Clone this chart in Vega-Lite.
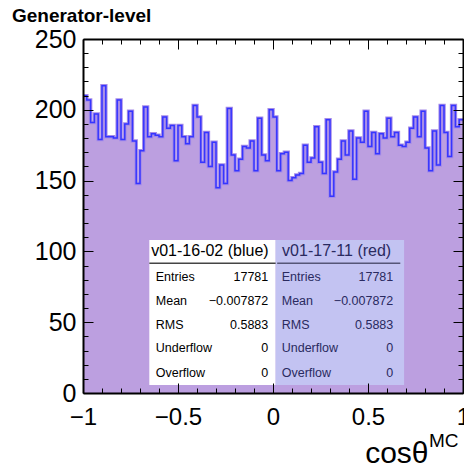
{
  "$schema": "https://vega.github.io/schema/vega-lite/v6.json",
  "width": 380,
  "height": 354,
  "autosize": "none",
  "padding": {"left": 83, "top": 39, "right": 1, "bottom": 72},
  "config": {
    "view": {"stroke": null},
    "font": "Liberation Sans",
    "axis": {"grid": false, "domain": false, "tickColor": "black", "tickWidth": 1, "labelFont": "Liberation Sans", "labelFontSize": 24, "labelColor": "black", "titleFont": "Liberation Sans", "titleColor": "black"}
  },
  "datasets": {
    "hist": [
      {"x": -1, "n": 210}, {"x": -0.98, "n": 207}, {"x": -0.96, "n": 191}, {"x": -0.94, "n": 197}, {"x": -0.92, "n": 179},
      {"x": -0.9, "n": 217}, {"x": -0.88, "n": 181}, {"x": -0.86, "n": 181}, {"x": -0.84, "n": 180}, {"x": -0.82, "n": 207},
      {"x": -0.8, "n": 179}, {"x": -0.78, "n": 190}, {"x": -0.76, "n": 199}, {"x": -0.74, "n": 178}, {"x": -0.72, "n": 148},
      {"x": -0.7, "n": 171}, {"x": -0.68, "n": 202}, {"x": -0.66, "n": 181}, {"x": -0.64, "n": 183}, {"x": -0.62, "n": 182},
      {"x": -0.6, "n": 181}, {"x": -0.58, "n": 195}, {"x": -0.56, "n": 187}, {"x": -0.54, "n": 189}, {"x": -0.52, "n": 164},
      {"x": -0.5, "n": 189}, {"x": -0.48, "n": 181}, {"x": -0.46, "n": 176}, {"x": -0.44, "n": 181}, {"x": -0.42, "n": 203},
      {"x": -0.4, "n": 195}, {"x": -0.38, "n": 163}, {"x": -0.36, "n": 184}, {"x": -0.34, "n": 160}, {"x": -0.32, "n": 177},
      {"x": -0.3, "n": 145}, {"x": -0.28, "n": 161}, {"x": -0.26, "n": 148}, {"x": -0.24, "n": 201}, {"x": -0.22, "n": 168},
      {"x": -0.2, "n": 157}, {"x": -0.18, "n": 165}, {"x": -0.16, "n": 174}, {"x": -0.14, "n": 173}, {"x": -0.12, "n": 178},
      {"x": -0.1, "n": 157}, {"x": -0.08, "n": 194}, {"x": -0.06, "n": 168}, {"x": -0.04, "n": 164}, {"x": -0.02, "n": 200},
      {"x": 0, "n": 195}, {"x": 0.02, "n": 157}, {"x": 0.04, "n": 169}, {"x": 0.06, "n": 170}, {"x": 0.08, "n": 150},
      {"x": 0.1, "n": 152}, {"x": 0.12, "n": 154}, {"x": 0.14, "n": 155}, {"x": 0.16, "n": 175}, {"x": 0.18, "n": 163},
      {"x": 0.2, "n": 166}, {"x": 0.22, "n": 188}, {"x": 0.24, "n": 163}, {"x": 0.26, "n": 155}, {"x": 0.28, "n": 193},
      {"x": 0.3, "n": 139}, {"x": 0.32, "n": 156}, {"x": 0.34, "n": 165}, {"x": 0.36, "n": 178}, {"x": 0.38, "n": 168},
      {"x": 0.4, "n": 185}, {"x": 0.42, "n": 151}, {"x": 0.44, "n": 180}, {"x": 0.46, "n": 177}, {"x": 0.48, "n": 199},
      {"x": 0.5, "n": 174}, {"x": 0.52, "n": 184}, {"x": 0.54, "n": 169}, {"x": 0.56, "n": 183}, {"x": 0.58, "n": 180},
      {"x": 0.6, "n": 194}, {"x": 0.62, "n": 181}, {"x": 0.64, "n": 184}, {"x": 0.66, "n": 175}, {"x": 0.68, "n": 174},
      {"x": 0.7, "n": 177}, {"x": 0.72, "n": 187}, {"x": 0.74, "n": 195}, {"x": 0.76, "n": 181}, {"x": 0.78, "n": 199},
      {"x": 0.8, "n": 173}, {"x": 0.82, "n": 157}, {"x": 0.84, "n": 185}, {"x": 0.86, "n": 161}, {"x": 0.88, "n": 203},
      {"x": 0.9, "n": 184}, {"x": 0.92, "n": 167}, {"x": 0.94, "n": 203}, {"x": 0.96, "n": 188}, {"x": 0.98, "n": 193},
      {"x": 1, "n": 193}
    ],
    "stats": [
      {"label": "Entries", "blue": "17781", "red": "17781", "y": 82.1},
      {"label": "Mean", "blue": "−0.007872", "red": "−0.007872", "y": 65.2},
      {"label": "RMS", "blue": "0.5883", "red": "0.5883", "y": 48.0},
      {"label": "Underflow", "blue": "0", "red": "0", "y": 31.6},
      {"label": "Overflow", "blue": "0", "red": "0", "y": 14.3}
    ],
    "one": [{}]
  },
  "layer": [
    {
      "data": {"name": "hist"},
      "mark": {"type": "area", "interpolate": "step-after", "color": "#bc9fe0"},
      "encoding": {
        "x": {"field": "x", "type": "quantitative", "scale": {"domain": [-1, 1], "nice": false, "zero": false},
          "axis": {"orient": "bottom", "zindex": 1, "values": [-1, -0.5, 0, 0.5, 1], "format": "~g", "tickSize": -10, "labelPadding": 22, "labelFlush": false, "labelOverlap": false, "labelBound": false, "domain": true, "domainColor": "black", "domainWidth": 2,
            "title": "cosθ", "titleFontSize": 30, "titleFontWeight": "normal", "titleX": 345, "titleY": 69, "titleAlign": "right", "titleBaseline": "alphabetic", "titleAnchor": "end"}},
        "y": {"field": "n", "type": "quantitative", "scale": {"domain": [0, 250], "nice": false, "zero": false},
          "axis": {"orient": "left", "zindex": 1, "values": [0, 50, 100, 150, 200, 250], "tickSize": -10, "labelPadding": 17, "labelFontSize": 25, "labelOverlap": false, "labelFlush": false, "domain": true, "domainColor": "black", "domainWidth": 2, "title": null}}
      }
    },
    {
      "data": {"name": "hist"},
      "mark": {"type": "line", "interpolate": "step-after", "stroke": "#a58be8", "strokeWidth": 3.5},
      "encoding": {
        "x": {"field": "x", "type": "quantitative", "scale": {"domain": [-1, 1], "nice": false, "zero": false},
          "axis": {"orient": "bottom", "zindex": 1, "values": [-0.9, -0.8, -0.7, -0.6, -0.4, -0.3, -0.2, -0.1, 0.1, 0.2, 0.3, 0.4, 0.6, 0.7, 0.8, 0.9], "tickSize": -5, "labels": false, "title": null}},
        "y": {"field": "n", "type": "quantitative", "scale": {"domain": [0, 250], "nice": false, "zero": false},
          "axis": {"orient": "left", "zindex": 1, "values": [10, 20, 30, 40, 60, 70, 80, 90, 110, 120, 130, 140, 160, 170, 180, 190, 210, 220, 230, 240], "tickSize": -5, "labels": false, "title": null}}
      }
    },
    {
      "data": {"name": "hist"},
      "mark": {"type": "line", "interpolate": "step-after", "stroke": "#3535ff", "strokeWidth": 1.5},
      "encoding": {
        "x": {"field": "x", "type": "quantitative", "scale": {"domain": [-1, 1], "nice": false, "zero": false},
          "axis": {"orient": "top", "zindex": 1, "values": [-1, -0.5, 0, 0.5, 1], "tickSize": -10, "labels": false, "title": null, "domain": true, "domainColor": "black", "domainWidth": 2}},
        "y": {"field": "n", "type": "quantitative", "scale": {"domain": [0, 250], "nice": false, "zero": false},
          "axis": {"orient": "right", "zindex": 1, "values": [0, 50, 100, 150, 200, 250], "tickSize": -10, "labels": false, "title": null, "domain": true, "domainColor": "black", "domainWidth": 2}}
      }
    },
    {
      "data": {"name": "one"},
      "mark": {"type": "rect", "fill": "white"},
      "encoding": {
        "x": {"datum": -0.651, "scale": {"domain": [-1, 1], "nice": false, "zero": false},
          "axis": {"orient": "top", "zindex": 1, "values": [-0.9, -0.8, -0.7, -0.6, -0.4, -0.3, -0.2, -0.1, 0.1, 0.2, 0.3, 0.4, 0.6, 0.7, 0.8, 0.9], "tickSize": -5, "labels": false, "title": null}},
        "x2": {"datum": 0.014},
        "y": {"datum": 108, "scale": {"domain": [0, 250], "nice": false, "zero": false},
          "axis": {"orient": "right", "zindex": 1, "values": [10, 20, 30, 40, 60, 70, 80, 90, 110, 120, 130, 140, 160, 170, 180, 190, 210, 220, 230, 240], "tickSize": -5, "labels": false, "title": null}},
        "y2": {"datum": 5.6}
      }
    },
    {
      "data": {"name": "one"},
      "mark": {"type": "rect", "fill": "#c3c3f2"},
      "encoding": {
        "x": {"datum": 0.014, "scale": {"domain": [-1, 1], "nice": false, "zero": false}, "axis": null},
        "x2": {"datum": 0.69},
        "y": {"datum": 108, "scale": {"domain": [0, 250], "nice": false, "zero": false}, "axis": null},
        "y2": {"datum": 5.6}
      }
    },
    {
      "data": {"name": "one"},
      "mark": {"type": "rule", "color": "#444444", "strokeWidth": 1.5},
      "encoding": {
        "x": {"datum": -0.651, "scale": {"domain": [-1, 1], "nice": false, "zero": false}, "axis": null},
        "x2": {"datum": 0.014},
        "y": {"datum": 91.6, "scale": {"domain": [0, 250], "nice": false, "zero": false}, "axis": null}
      }
    },
    {
      "data": {"name": "one"},
      "mark": {"type": "rule", "color": "#555577", "strokeWidth": 1.5},
      "encoding": {
        "x": {"datum": 0.022, "scale": {"domain": [-1, 1], "nice": false, "zero": false}, "axis": null},
        "x2": {"datum": 0.67},
        "y": {"datum": 91.6, "scale": {"domain": [0, 250], "nice": false, "zero": false}, "axis": null}
      }
    },
    {
      "data": {"name": "one"},
      "mark": {"type": "text", "text": "v01-16-02 (blue)", "align": "center", "baseline": "middle", "font": "Liberation Sans", "fontSize": 16, "color": "black"},
      "encoding": {
        "x": {"datum": -0.332, "scale": {"domain": [-1, 1], "nice": false, "zero": false}, "axis": null},
        "y": {"datum": 100.3, "scale": {"domain": [0, 250], "nice": false, "zero": false}, "axis": null}
      }
    },
    {
      "data": {"name": "one"},
      "mark": {"type": "text", "text": "v01-17-11 (red)", "align": "center", "baseline": "middle", "font": "Liberation Sans", "fontSize": 16, "color": "#2a2a60"},
      "encoding": {
        "x": {"datum": 0.335, "scale": {"domain": [-1, 1], "nice": false, "zero": false}, "axis": null},
        "y": {"datum": 100.3, "scale": {"domain": [0, 250], "nice": false, "zero": false}, "axis": null}
      }
    },
    {
      "data": {"name": "stats"},
      "mark": {"type": "text", "align": "left", "baseline": "middle", "font": "Liberation Sans", "fontSize": 12.5, "color": "black"},
      "encoding": {
        "x": {"datum": -0.617, "scale": {"domain": [-1, 1], "nice": false, "zero": false}, "axis": null},
        "y": {"field": "y", "type": "quantitative", "scale": {"domain": [0, 250], "nice": false, "zero": false}, "axis": null},
        "text": {"field": "label"}
      }
    },
    {
      "data": {"name": "stats"},
      "mark": {"type": "text", "align": "right", "baseline": "middle", "font": "Liberation Sans", "fontSize": 12.5, "color": "black"},
      "encoding": {
        "x": {"datum": -0.025, "scale": {"domain": [-1, 1], "nice": false, "zero": false}, "axis": null},
        "y": {"field": "y", "type": "quantitative", "scale": {"domain": [0, 250], "nice": false, "zero": false}, "axis": null},
        "text": {"field": "blue"}
      }
    },
    {
      "data": {"name": "stats"},
      "mark": {"type": "text", "align": "left", "baseline": "middle", "font": "Liberation Sans", "fontSize": 12.5, "color": "#2a2a60"},
      "encoding": {
        "x": {"datum": 0.046, "scale": {"domain": [-1, 1], "nice": false, "zero": false}, "axis": null},
        "y": {"field": "y", "type": "quantitative", "scale": {"domain": [0, 250], "nice": false, "zero": false}, "axis": null},
        "text": {"field": "label"}
      }
    },
    {
      "data": {"name": "stats"},
      "mark": {"type": "text", "align": "right", "baseline": "middle", "font": "Liberation Sans", "fontSize": 12.5, "color": "#2a2a60"},
      "encoding": {
        "x": {"datum": 0.633, "scale": {"domain": [-1, 1], "nice": false, "zero": false}, "axis": null},
        "y": {"field": "y", "type": "quantitative", "scale": {"domain": [0, 250], "nice": false, "zero": false}, "axis": null},
        "text": {"field": "red"}
      }
    },
    {
      "data": {"name": "one"},
      "mark": {"type": "text", "text": "MC", "align": "left", "baseline": "alphabetic", "font": "Liberation Sans", "fontSize": 19, "color": "black"},
      "encoding": {
        "x": {"datum": 0.821, "scale": {"domain": [-1, 1], "nice": false, "zero": false}, "axis": null},
        "y": {"datum": -37.9, "scale": {"domain": [0, 250], "nice": false, "zero": false}, "axis": null}
      }
    },
    {
      "data": {"name": "one"},
      "mark": {"type": "text", "text": "Generator-level", "align": "left", "baseline": "alphabetic", "font": "Liberation Sans", "fontSize": 19, "fontWeight": "bold", "color": "black"},
      "encoding": {
        "x": {"datum": -1.374, "scale": {"domain": [-1, 1], "nice": false, "zero": false}, "axis": null},
        "y": {"datum": 262.2, "scale": {"domain": [0, 250], "nice": false, "zero": false}, "axis": null}
      }
    }
  ],
  "resolve": {"axis": {"x": "independent", "y": "independent"}}
}
